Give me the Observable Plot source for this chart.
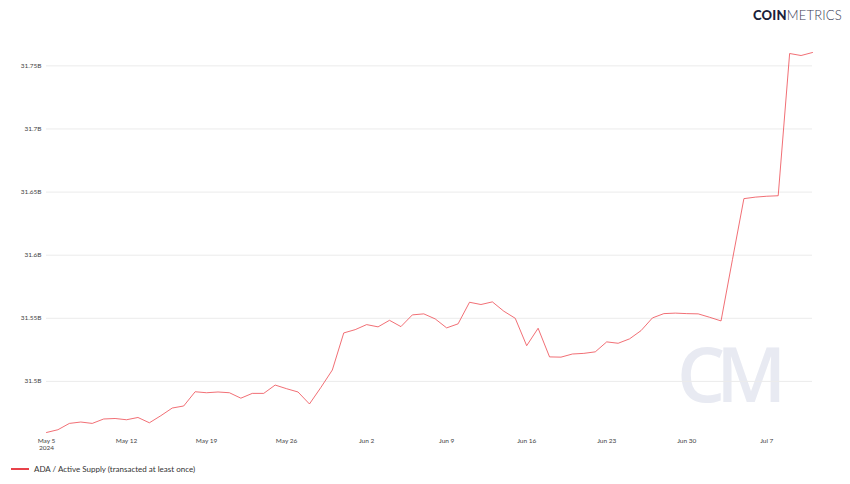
<!DOCTYPE html>
<html>
<head>
<meta charset="utf-8">
<script src="https://cdn.jsdelivr.net/npm/d3@7"></script>
<script src="https://cdn.jsdelivr.net/npm/@observablehq/plot@0.6"></script>
<style>
  html, body { margin: 0; padding: 0; background: #fff; }
  body { width: 850px; height: 484px; position: relative; overflow: hidden; font-family: Lato, "Noto Sans", sans-serif; }
  #logo { position: absolute; left: 753px; top: 7px; font-size: 13px; letter-spacing: 0.2px; color: #1c1f3a; font-family: Lato, sans-serif; }
  #logo b { font-weight: 900; }
  #logo span { font-weight: 300; color: #3a3d55; }
  #wm { position: absolute; left: 677px; top: 321px; font-size: 76px; font-weight: 600; color: #e8eaf2; font-family: "Open Sans", sans-serif; letter-spacing: -9px; z-index: 0; }
  #chart { position: absolute; left: 0; top: 0; z-index: 1; }
  #legend { position: absolute; left: 11px; top: 464px; font-size: 8px; color: #333; display: flex; align-items: center; }
  #legend i { display: inline-block; width: 18px; height: 2px; background: #e8424a; margin-right: 5px; }
</style>
</head>
<body>
<div id="wm">CM</div>
<div id="chart"></div>
<div id="logo"><b>COIN</b><span>METRICS</span></div>
<div id="legend"><i></i>ADA / Active Supply (transacted at least once)</div>
<script>
const dates = [
  "2024-05-05","2024-05-06","2024-05-07","2024-05-08","2024-05-09","2024-05-10","2024-05-11",
  "2024-05-12","2024-05-13","2024-05-14","2024-05-15","2024-05-16","2024-05-17","2024-05-18",
  "2024-05-19","2024-05-20","2024-05-21","2024-05-22","2024-05-23","2024-05-24","2024-05-25",
  "2024-05-26","2024-05-27","2024-05-28","2024-05-29","2024-05-30","2024-05-31","2024-06-01",
  "2024-06-02","2024-06-03","2024-06-04","2024-06-05","2024-06-06","2024-06-07","2024-06-08",
  "2024-06-09","2024-06-10","2024-06-11","2024-06-12","2024-06-13","2024-06-14","2024-06-15",
  "2024-06-16","2024-06-17","2024-06-18","2024-06-19","2024-06-20","2024-06-21","2024-06-22",
  "2024-06-23","2024-06-24","2024-06-25","2024-06-26","2024-06-27","2024-06-28","2024-06-29",
  "2024-06-30","2024-07-01","2024-07-02","2024-07-03","2024-07-04","2024-07-05","2024-07-06",
  "2024-07-07","2024-07-08","2024-07-09","2024-07-10","2024-07-11"
];
// Active supply, billions of ADA
const activeSupply = [
  31.4595,31.4617,31.4667,31.4678,31.4667,31.4702,31.4706,
  31.4696,31.4714,31.4672,31.4728,31.4789,31.4805,31.4918,
  31.4910,31.4916,31.4910,31.4867,31.4905,31.4905,31.4971,
  31.4942,31.4916,31.4821,31.4952,31.5090,31.5384,31.5410,
  31.5450,31.5432,31.5484,31.5434,31.5527,31.5535,31.5495,
  31.5424,31.5456,31.5627,31.5609,31.5630,31.5556,31.5500,
  31.5283,31.5421,31.5194,31.5192,31.5217,31.5222,31.5234,
  31.5313,31.5302,31.5337,31.5402,31.5503,31.5537,31.5541,
  31.5537,31.5535,31.5508,31.5479,31.5966,31.6448,31.6460,
  31.6467,31.6471,31.7598,31.7582,31.7606
];
const yTicks = [31.5, 31.55, 31.6, 31.65, 31.7, 31.75];
const yTickLabels = ["31.5B", "31.55B", "31.6B", "31.65B", "31.7B", "31.75B"];
const xTicks = ["2024-05-05","2024-05-12","2024-05-19","2024-05-26","2024-06-02","2024-06-09","2024-06-16","2024-06-23","2024-06-30","2024-07-07"];
const xTickLabels = ["May 5\n2024","May 12","May 19","May 26","Jun 2","Jun 9","Jun 16","Jun 23","Jun 30","Jul 7"];
const seriesName = "ADA / Active Supply (transacted at least once)";
const lineColor = "#ee4a52";

const parse = d3.utcParse("%Y-%m-%d");
const data = dates.map((d, i) => ({date: parse(d), value: activeSupply[i]}));
const xTickDates = xTicks.map(parse);

const chart = Plot.plot({
  width: 850,
  height: 456,
  marginLeft: 46,
  marginRight: 38,
  marginTop: 52,
  marginBottom: 24,
  style: {fontFamily: "Lato, 'Noto Sans', sans-serif", fontSize: "6.5px", color: "#444", background: "transparent", overflow: "visible"},
  x: {
    type: "utc",
    domain: [data[0].date, data[data.length - 1].date],
    ticks: xTickDates,
    tickFormat: d => xTickLabels[xTickDates.findIndex(t => +t === +d)],
    tickSize: 0,
    tickPadding: 6,
    label: null
  },
  y: {
    domain: [d3.min(activeSupply), d3.max(activeSupply)],
    ticks: yTicks,
    tickFormat: d => yTickLabels[yTicks.indexOf(d)],
    tickSize: 0,
    tickPadding: 5,
    label: null
  },
  marks: [
    Plot.gridY(yTicks, {stroke: "#ebebeb", strokeOpacity: 1, strokeWidth: 1}),
    Plot.line(data, {x: "date", y: "value", stroke: lineColor, strokeWidth: 0.8, title: () => seriesName})
  ]
});
document.getElementById("chart").append(chart);
</script>
</body>
</html>
